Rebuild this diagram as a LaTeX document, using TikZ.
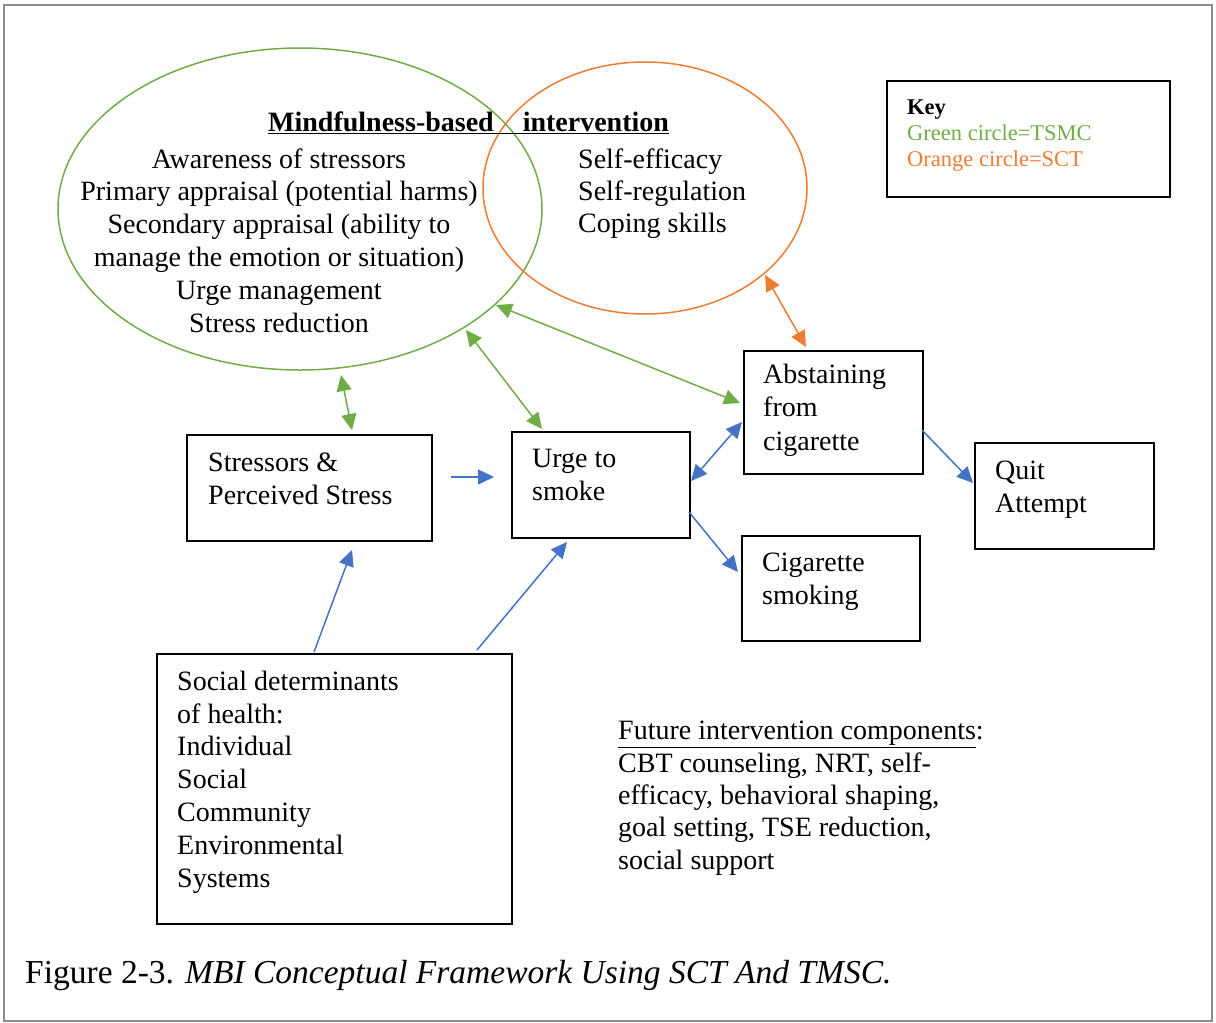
\documentclass[tikz,border=0pt]{standalone}
\usepackage{fontspec}
\setmainfont{Liberation Serif}
\usetikzlibrary{arrows.meta,shapes.geometric}
\definecolor{tgreen}{HTML}{70AD47}
\definecolor{torange}{HTML}{ED7D31}
\definecolor{tblue}{HTML}{4472C4}
\definecolor{framegray}{HTML}{8C8C8C}
\tikzset{
  box/.style={draw=black, line width=1.6pt, rectangle, anchor=north west, inner sep=0pt},
  txt/.style={anchor=base west, inner sep=0pt, align=left, font=\fontsize{28}{32.8}\selectfont},
  ctxt/.style={anchor=base, inner sep=0pt, align=center, font=\fontsize{28}{32.8}\selectfont},
  keytxt/.style={anchor=base west, inner sep=0pt, align=left, font=\fontsize{22.5}{26}\selectfont},
  captxt/.style={anchor=base west, inner sep=0pt, font=\fontsize{33.5}{38}\selectfont},
  circ/.style={ellipse, line width=1.5pt, inner sep=0pt},
  hd/.tip={Triangle[length=16pt,width=15pt]},
  garrow/.style={tgreen, line width=1.5pt, hd-hd},
  oarrow/.style={torange, line width=1.5pt, hd-hd},
  barrow/.style={tblue, line width=1.5pt, -hd},
  bdarrow/.style={tblue, line width=1.5pt, hd-hd}
}
\begin{document}
\begin{tikzpicture}[x=1pt,y=-1pt]
\useasboundingbox (0,0) rectangle (1216,1023);
\draw[framegray, line width=2.5pt] (4,5) rectangle (1212,1021);

% circles
\node[circ, draw=tgreen, minimum width=484pt, minimum height=322pt] (green) at (300,209) {};
\node[circ, draw=torange, minimum width=324pt, minimum height=252pt] (orange) at (645,188) {};

% circle texts (anchor = baseline of last line)
\node[txt, font=\fontsize{28}{32.8}\selectfont\bfseries] (mbihead) at (268,131)
  {\underline{Mindfulness-based\hspace{29pt}intervention}};
\node[ctxt] (tsmctext) at (279,332) {Awareness of stressors\\Primary appraisal (potential harms)\\Secondary appraisal (ability to\\manage the emotion or situation)\\Urge management\\Stress reduction};
\node[txt, font=\fontsize{28}{32.3}\selectfont] (scttext) at (578,232.6) {Self-efficacy\\Self-regulation\\Coping skills};

% key
\node[box, minimum width=283pt, minimum height=116pt] (keybox) at (886,80) {};
\node[keytxt] (keytext) at (907,166) {\textbf{Key}\\\textcolor{tgreen}{Green circle=TSMC}\\\textcolor{torange}{Orange circle=SCT}};

% boxes
\node[box, minimum width=245pt, minimum height=106pt] (stress) at (186,434) {};
\node[txt] (stresst) at (208,504) {Stressors \&\\Perceived Stress};
\node[box, minimum width=178pt, minimum height=106pt] (urge) at (511,431) {};
\node[txt] (urget) at (532,500) {Urge to\\smoke};
\node[box, minimum width=179pt, minimum height=123pt] (abst) at (743,350) {};
\node[txt, font=\fontsize{28}{33.5}\selectfont] (abstt) at (763,450) {Abstaining\\from\\cigarette};
\node[box, minimum width=179pt, minimum height=106pt] (quit) at (974,442) {};
\node[txt] (quitt) at (995,512) {Quit\\Attempt};
\node[box, minimum width=178pt, minimum height=105pt] (cig) at (741,535) {};
\node[txt] (cigt) at (762,604) {Cigarette\\smoking};
\node[box, minimum width=355pt, minimum height=270pt] (social) at (156,653) {};
\node[txt] (socialt) at (177,887) {Social determinants\\of health:\\Individual\\Social\\Community\\Environmental\\Systems};

% future
\node[txt, font=\fontsize{28}{32.3}\selectfont] (future) at (618,869) {\underline{Future intervention components}:\\CBT counseling, NRT, self-\\efficacy, behavioral shaping,\\goal setting, TSE reduction,\\social support};

% caption
\node[captxt] (caption) at (25,983) {Figure 2-3. \textit{MBI Conceptual Framework Using SCT And TMSC.}};

% connector end points
\coordinate (g1a) at (341,375); \coordinate (g1b) at (352,430);
\coordinate (g2a) at (466,330); \coordinate (g2b) at (542,429);
\coordinate (g3a) at (496,305); \coordinate (g3b) at (740,403);
\coordinate (o1a) at (765,275); \coordinate (o1b) at (806,347);
\coordinate (b1a) at (451,477); \coordinate (b1b) at (494,477);
\coordinate (b2a) at (691,481); \coordinate (b2b) at (742,422);
\coordinate (b3a) at (922,430); \coordinate (b3b) at (973,483);
\coordinate (b4a) at (689,512); \coordinate (b4b) at (738,572);
\coordinate (b5a) at (314,652); \coordinate (b5b) at (352,550);
\coordinate (b6a) at (477,650); \coordinate (b6b) at (567,542);

\draw[garrow] (g1a) -- (g1b);
\draw[garrow] (g2a) -- (g2b);
\draw[garrow] (g3a) -- (g3b);
\draw[oarrow] (o1a) -- (o1b);
\draw[barrow] (b1a) -- (b1b);
\draw[bdarrow] (b2a) -- (b2b);
\draw[barrow] (b3a) -- (b3b);
\draw[barrow] (b4a) -- (b4b);
\draw[barrow] (b5a) -- (b5b);
\draw[barrow] (b6a) -- (b6b);
\end{tikzpicture}
\end{document}
